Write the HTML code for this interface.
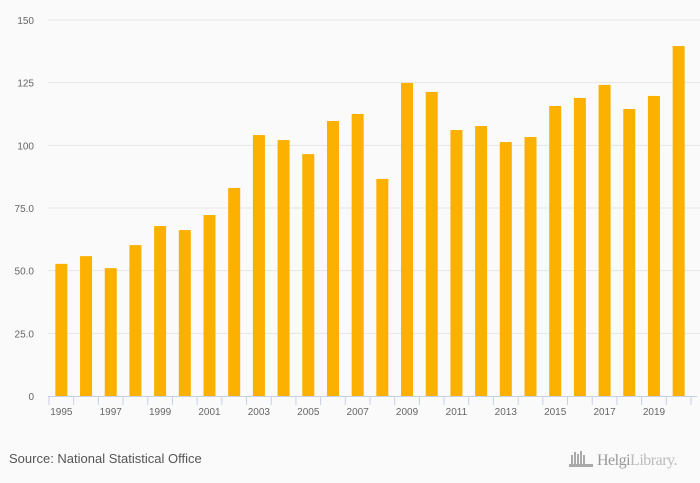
<!DOCTYPE html>
<html><head><meta charset="utf-8"><style>
body{margin:0;background:#fafafa;font-family:"Liberation Sans",sans-serif;}
svg{display:block}
</style></head><body>
<svg id="chart" width="700" height="483">
<rect width="700" height="483" fill="#fafafa"/>
<g id="grid"></g><g id="bars"></g><g id="axis"></g>
<text x="9" y="463" font-size="13" fill="#555">Source: National Statistical Office</text>
<g>
<g fill="#aaa"><rect x="571" y="455" width="2" height="9"/><rect x="574" y="452" width="2" height="12"/><rect x="577" y="454" width="2" height="10"/><rect x="580" y="451" width="2" height="13"/><rect x="583" y="455" width="2" height="9"/><rect x="569" y="464" width="24" height="3"/></g>
<text x="597" y="465" font-size="16" fill="#999" font-family="Liberation Serif,serif" letter-spacing="-0.5">Helgi<tspan fill="#bbb">Library.</tspan></text>
</g>
</svg>
<script>
const categories=[1995,1996,1997,1998,1999,2000,2001,2002,2003,2004,2005,2006,2007,2008,2009,2010,2011,2012,2013,2014,2015,2016,2017,2018,2019,2020];
const values=[52.7,55.8,51.0,60.2,67.8,66.2,72.2,83.0,104.1,102.1,96.5,109.7,112.5,86.6,124.9,121.3,106.1,107.7,101.3,103.3,115.7,118.9,124.1,114.5,119.7,139.6];
const yTicks=[0,25,50,75,100,125,150];
const yTickLabels=["0","25.0","50.0","75.0","100","125","150"];
const NS="http://www.w3.org/2000/svg";
const x0=49,x1=691,yTop=20,yBot=396,yMax=150;
const step=(x1-x0)/categories.length;
const y=v=>yBot-(v/yMax)*(yBot-yTop);
const xc=i=>x0+step*(i+0.5);
function mk(tag,attrs,parent){const e=document.createElementNS(NS,tag);for(const k in attrs)e.setAttribute(k,attrs[k]);document.getElementById(parent).appendChild(e);return e;}
yTicks.forEach((t,i)=>{
 if(t>0){const l=mk('line',{x1:48,x2:700,y1:y(t),y2:y(t),stroke:'#e6e6e6'},'grid');
 
 }
 const tx=mk('text',{x:34,y:y(t)+4,'text-anchor':'end','font-size':'10',fill:'#666'},'grid');
 tx.textContent=yTickLabels[i];
 
 
});
values.forEach((v,i)=>{
 const r=mk('rect',{x:xc(i)-6,y:y(v),width:12,height:yBot-y(v),fill:'#fcb000'},'bars');
 
 
});
const ax=mk('line',{x1:48,x2:x1+6,y1:yBot+0.5,y2:yBot+0.5,stroke:'#c6d0e6'},'axis');


for(let i=0;i<=categories.length;i++){
 const t=mk('line',{x1:x0+step*i,x2:x0+step*i,y1:yBot,y2:yBot+9,stroke:'#c6d0e6'},'axis');
 
 
}
categories.forEach((c,i)=>{
 if(i%2)return;
 const t=mk('text',{x:xc(i),y:yBot+19,'text-anchor':'middle','font-size':'10',fill:'#666'},'axis');
 t.textContent=c;
 
 
});
</script>
</body></html>
